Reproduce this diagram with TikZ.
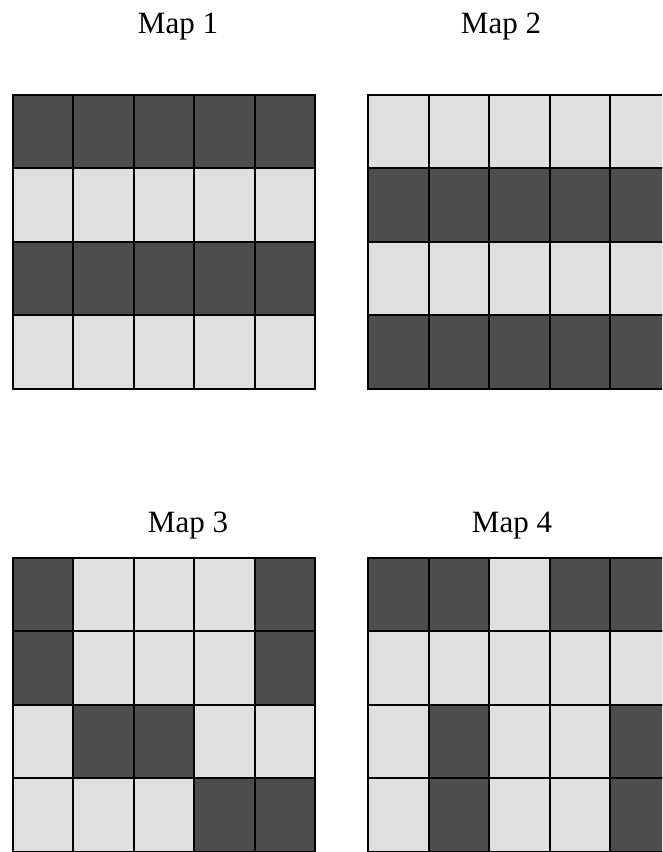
\documentclass[tikz,border=0pt]{standalone}
\usepackage{fontspec}
\setmainfont{Liberation Serif}
\definecolor{ink}{HTML}{4D4D4D}
\definecolor{pale}{HTML}{DFDFDF}
\tikzset{maptitle/.style={anchor=base,inner sep=0pt,font=\fontsize{31}{36}\selectfont}}
\newcommand{\mapgrid}[3]{\foreach \row [count=\r from 0] in {#3} {\foreach \c [count=\k from 0] in \row {\ifnum\c=1 \def\cellcol{ink}\else\def\cellcol{pale}\fi \filldraw[fill=\cellcol,draw=black,line width=2pt] ({#1+\k*60.5},{#2+\r*73.5}) rectangle ++(60.5,73.5);}}}

\begin{document}
\begin{tikzpicture}[x=1pt,y=-1pt]
\clip (0,0) rectangle (662,852);
\node[maptitle] (t1) at (178,33) {Map 1};
\node[maptitle] (t2) at (501,33) {Map 2};
\node[maptitle] (t3) at (188,532) {Map 3};
\node[maptitle] (t4) at (512,532) {Map 4};
\mapgrid{12.5}{94.5}{{1,1,1,1,1},{0,0,0,0,0},{1,1,1,1,1},{0,0,0,0,0}}
\mapgrid{368}{94.5}{{0,0,0,0,0},{1,1,1,1,1},{0,0,0,0,0},{1,1,1,1,1}}
\mapgrid{12.5}{557.5}{{1,0,0,0,1},{1,0,0,0,1},{0,1,1,0,0},{0,0,0,1,1}}
\mapgrid{368}{557.5}{{1,1,0,1,1},{0,0,0,0,0},{0,1,0,0,1},{0,1,0,0,1}}
\end{tikzpicture}
\end{document}
